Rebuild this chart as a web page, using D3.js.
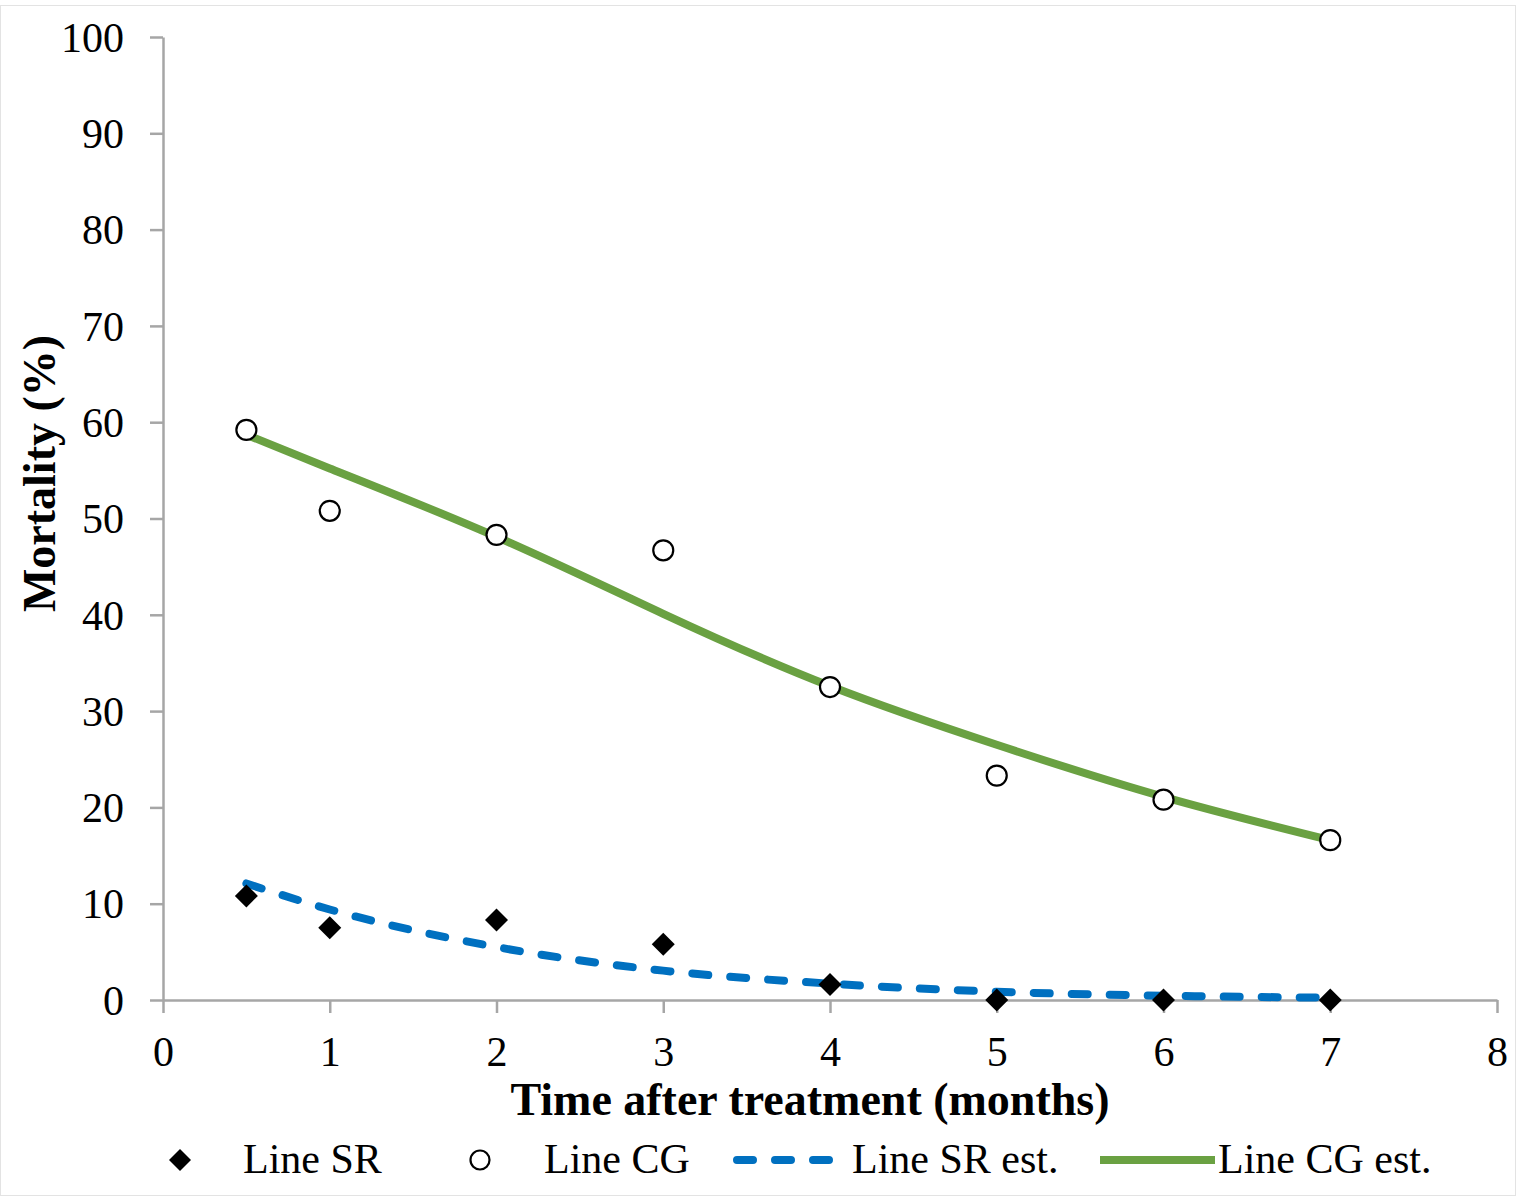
<!DOCTYPE html>
<html><head><meta charset="utf-8">
<script src="https://cdn.jsdelivr.net/npm/d3@7"></script>
<style>html,body{margin:0;padding:0;background:#fff;}svg{display:block;}</style>
</head><body>
<svg id="chart" width="1517" height="1200"></svg>
<script>
// Data
const months = [0.5, 1, 2, 3, 4, 5, 6, 7];
const lineSR = [10.8, 7.5, 8.3, 5.8, 1.6, 0, 0, 0];
const lineCG = [59.2, 50.8, 48.3, 46.7, 32.5, 23.3, 20.8, 16.6];
const lineSRest = [12.1, 9.4, 5.5, 3.05, 1.7, 0.86, 0.45, 0.24];
const lineCGest = [58.7, 55.2, 48.1, 40.1, 32.6, 26.5, 21.1, 16.6];
const xTicks = [0, 1, 2, 3, 4, 5, 6, 7, 8];
const yTicks = [0, 10, 20, 30, 40, 50, 60, 70, 80, 90, 100];
const legendLabels = ["Line SR", "Line CG", "Line SR est.", "Line CG est."];

const svg = d3.select("#chart");
const font = "'Liberation Serif','Times New Roman',serif";
const axisColor = "#a6a6a6";
const blue = "#0070c0", green = "#6aa142";

svg.append("rect").attr("x", 0.5).attr("y", 5.5).attr("width", 1515).attr("height", 1190)
  .attr("fill", "none").attr("stroke", "#e3e3e3").attr("stroke-width", 1);

const x = d3.scaleLinear().domain([0, 8]).range([163, 1497]);
const y = d3.scaleLinear().domain([0, 100]).range([1000, 37]);

// Y axis
const yAxis = svg.append("g").attr("transform", `translate(${x(0)},0)`)
  .call(d3.axisLeft(y).tickValues(yTicks).tickSize(13).tickPadding(26).tickSizeOuter(0));
// X axis
const xAxis = svg.append("g").attr("transform", `translate(0,${y(0)})`)
  .call(d3.axisBottom(x).tickValues(xTicks).tickSize(13).tickPadding(23).tickSizeOuter(0));
[xAxis, yAxis].forEach(g => {
  g.select(".domain").attr("stroke", axisColor).attr("stroke-width", 2.5);
  g.selectAll(".tick line").attr("stroke", axisColor).attr("stroke-width", 2.5);
  g.selectAll(".tick text").attr("fill", "#000").style("font-family", font).style("font-size", "42px");
});
yAxis.selectAll(".tick text").attr("dy", "0.34em");
xAxis.selectAll(".tick text").attr("dy", "0.71em");

// Axis titles
svg.append("text").attr("x", 810).attr("y", 1115).attr("text-anchor", "middle")
  .style("font-family", font).style("font-size", "46px").style("font-weight", "bold")
  .text("Time after treatment (months)");
svg.append("text").attr("transform", `translate(55,${(335 + 612) / 2}) rotate(-90)`)
  .attr("text-anchor", "middle")
  .style("font-family", font).style("font-size", "46px").style("font-weight", "bold")
  .text("Mortality (%)");

// Lines
const srGen = d3.line().x(d => x(d[0])).y(d => y(d[1])).curve(d3.curveMonotoneX);
const cgGen = d3.line().x(d => x(d[0])).y(d => y(d[1])).curve(d3.curveNatural);
svg.append("path").datum(months.map((m, i) => [m, lineSRest[i]]))
  .attr("d", srGen).attr("fill", "none").attr("stroke", blue).attr("stroke-width", 8)
  .attr("stroke-linecap", "round").attr("stroke-dasharray", "16 22");
svg.append("path").datum(months.map((m, i) => [m, lineCGest[i]]))
  .attr("d", cgGen).attr("fill", "none").attr("stroke", green).attr("stroke-width", 8);

// Markers
const diamond = (cx, cy, r) => `M${cx},${cy - r}L${cx + r},${cy}L${cx},${cy + r}L${cx - r},${cy}Z`;
svg.append("g").selectAll("path").data(months.map((m, i) => [m, lineSR[i]])).join("path")
  .attr("d", d => diamond(x(d[0]), y(d[1]), 11.5)).attr("fill", "#000");
svg.append("g").selectAll("circle").data(months.map((m, i) => [m, lineCG[i]])).join("circle")
  .attr("cx", d => x(d[0])).attr("cy", d => y(d[1])).attr("r", 10)
  .attr("fill", "#fff").attr("stroke", "#000").attr("stroke-width", 2.2);

// Legend
const ly = 1160;
const lg = svg.append("g");
lg.append("path").attr("d", diamond(180, ly, 11)).attr("fill", "#000");
lg.append("circle").attr("cx", 480).attr("cy", ly).attr("r", 9.5).attr("fill", "#fff").attr("stroke", "#000").attr("stroke-width", 2.2);
lg.append("line").attr("x1", 737).attr("x2", 846).attr("y1", ly).attr("y2", ly)
  .attr("stroke", blue).attr("stroke-width", 8).attr("stroke-linecap", "round").attr("stroke-dasharray", "16 22");
lg.append("line").attr("x1", 1100).attr("x2", 1215).attr("y1", ly).attr("y2", ly)
  .attr("stroke", green).attr("stroke-width", 8);
const lx = [243, 544, 852, 1218];
lg.selectAll("text").data(legendLabels).join("text")
  .attr("x", (d, i) => lx[i]).attr("y", 1173)
  .style("font-family", font).style("font-size", "42px").text(d => d);
</script>
</body></html>
